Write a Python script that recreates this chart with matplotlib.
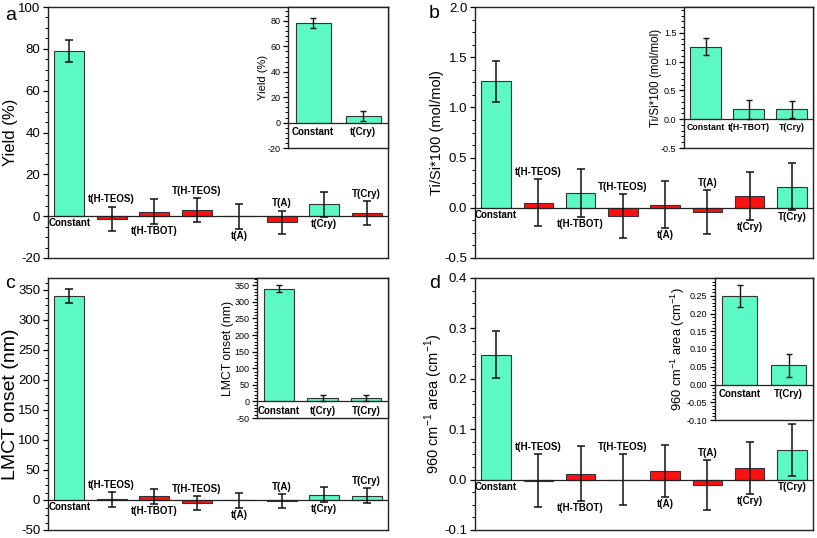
import matplotlib
matplotlib.use('Agg')
import matplotlib.pyplot as plt
from matplotlib.ticker import MultipleLocator, AutoMinorLocator, FormatStrFormatter

plt.rcParams['font.family'] = ['Liberation Sans', 'DejaVu Sans']
plt.rcParams['mathtext.fontset'] = 'custom'
plt.rcParams['mathtext.rm'] = 'Liberation Sans'

# categories
cats = ['Constant', 't(H-TEOS)', 't(H-TBOT)', 'T(H-TEOS)', 't(A)', 'T(A)', 't(Cry)', 'T(Cry)']

# a - yield
yield_val = [78.8, -1.2, 2.2, 3.0, -0.1, -3.0, 5.6, 1.7]
yield_err = [5.2, 5.8, 5.9, 5.6, 5.8, 5.7, 6.0, 5.7]
yield_in_cats = ['Constant', 't(Cry)']
yield_in_val = [78.6, 5.5]
yield_in_err = [4.1, 3.9]

# b - Ti/Si
tisi_val = [1.26, 0.05, 0.15, -0.08, 0.03, -0.04, 0.12, 0.21]
tisi_err = [0.205, 0.232, 0.24, 0.22, 0.233, 0.22, 0.237, 0.232]
tisi_in_cats = ['Constant', 't(H-TBOT)', 'T(Cry)']
tisi_in_val = [1.26, 0.17, 0.17]
tisi_in_err = [0.15, 0.16, 0.155]

# c - LMCT onset
lmct_val = [340.5, 1.0, 6.0, -4.8, -0.8, -1.8, 8.9, 7.4]
lmct_err = [11.4, 12.7, 13.0, 11.8, 12.5, 11.7, 12.5, 12.0]
lmct_in_cats = ['Constant', 't(Cry)', 'T(Cry)']
lmct_in_val = [340.0, 9.0, 9.0]
lmct_in_err = [9.5, 9.0, 9.0]

# d - 960 cm-1 area
area_val = [0.248, -0.002, 0.012, 0.0, 0.017, -0.011, 0.023, 0.059]
area_err = [0.046, 0.052, 0.054, 0.05, 0.052, 0.05, 0.052, 0.051]
area_in_cats = ['Constant', 'T(Cry)']
area_in_val = [0.249, 0.054]
area_in_err = [0.032, 0.033]

green = '#5CF8C6'
red = '#FF1010'
W, H = 817, 538


def px_axes(fig, l, t, r, b):
    return fig.add_axes([l / W, 1 - b / H, (r - l) / W, (b - t) / H])


def style_axis(ax, lab_size, minor_n):
    for s in ax.spines.values():
        s.set_linewidth(1.0)
        s.set_color('#222222')
    ax.tick_params(axis='x', bottom=False, labelbottom=False)
    ax.tick_params(axis='y', which='major', direction='out', length=3.5, width=0.9,
                   labelsize=lab_size, pad=2)
    ax.tick_params(axis='y', which='minor', direction='out', length=2, width=0.7)
    ax.yaxis.set_minor_locator(AutoMinorLocator(minor_n))
    ax.axhline(0, color='#222222', lw=0.9, zorder=3)


def label_at(ax, box, text, size, right_px):
    # right_px: right edge of the rotated label, in picture pixels
    l, t, r, b = box
    ax.set_ylabel(text, fontsize=size)
    ax.yaxis.set_label_coords((right_px - l) / (r - l), 0.5)


def main_panel(fig, box, vals, errs, inset_cats, places, ylim, step, fmt):
    ax = px_axes(fig, *box)
    x = range(len(cats))
    cols = [green if c in inset_cats else red for c in cats]
    ax.bar(x, vals, width=0.7, color=cols, edgecolor='#333333', linewidth=0.8, zorder=2)
    ax.errorbar(x, vals, yerr=errs, fmt='none', ecolor='#111111', elinewidth=1.1,
                capsize=3, capthick=1.1, zorder=4)
    ax.set_xlim(-0.5, len(cats) - 0.5)
    ax.set_ylim(*ylim)
    ax.yaxis.set_major_locator(MultipleLocator(step))
    ax.yaxis.set_major_formatter(FormatStrFormatter(fmt))
    style_axis(ax, 9.5, 4)
    for i, (c, v, e, p) in enumerate(zip(cats, vals, errs, places)):
        if p == 'up':
            ax.annotate(c, (i, max(0, v + e)), xytext=(0, 1.5), textcoords='offset points',
                        ha='center', va='bottom', fontsize=7, fontweight='bold')
        else:
            ax.annotate(c, (i, min(0, v - e)), xytext=(0, -1.5), textcoords='offset points',
                        ha='center', va='top', fontsize=7, fontweight='bold')
    return ax


def inset_panel(fig, box, icats, vals, errs, ylim, ticks, fmt, cat_size=7):
    ax = px_axes(fig, *box)
    x = range(len(icats))
    ax.bar(x, vals, width=0.7, color=green, edgecolor='#333333', linewidth=0.8, zorder=2)
    ax.errorbar(x, vals, yerr=errs, fmt='none', ecolor='#111111', elinewidth=1.0,
                capsize=2.5, capthick=1.0, zorder=4)
    ax.set_xlim(-0.5, len(icats) - 0.5)
    ax.set_ylim(*ylim)
    ax.set_yticks(ticks)
    ax.yaxis.set_major_formatter(FormatStrFormatter(fmt))
    style_axis(ax, 6.5, 5)
    for i, c in enumerate(icats):
        ax.annotate(c, (i, 0), xytext=(0, -3), textcoords='offset points',
                    ha='center', va='top', fontsize=cat_size, fontweight='bold')
    return ax


fig = plt.figure(figsize=(W / 100, H / 100), dpi=100)

# a
box = (48, 7, 388, 258)
ax = main_panel(fig, box, yield_val, yield_err, yield_in_cats,
                ['down', 'up', 'down', 'up', 'down', 'up', 'down', 'up'],
                (-20, 100), 20, '%d')
label_at(ax, box, 'Yield (%)', 12, 18)
box = (288, 7, 388, 148)
ins = inset_panel(fig, box, yield_in_cats, yield_in_val, yield_in_err,
                  (-20, 91), [-20, 0, 20, 40, 60, 80], '%d')
label_at(ins, box, 'Yield (%)', 8, 268)
fig.text(5 / W, 1 - 15 / H, 'a', fontsize=14, va='center')

# b
box = (475, 7, 813, 258)
ax = main_panel(fig, box, tisi_val, tisi_err, tisi_in_cats,
                ['down', 'up', 'down', 'up', 'down', 'up', 'down', 'down'],
                (-0.5, 2.0), 0.5, '%.1f')
label_at(ax, box, 'Ti/Si*100 (mol/mol)', 10.5, 444)
box = (684, 7, 813, 148)
ins = inset_panel(fig, box, tisi_in_cats, tisi_in_val, tisi_in_err,
                  (-0.5, 1.95), [-0.5, 0.0, 0.5, 1.0, 1.5], '%.1f', cat_size=6.3)
label_at(ins, box, 'Ti/Si*100 (mol/mol)', 8.3, 662)
fig.text(429 / W, 1 - 13 / H, 'b', fontsize=14, va='center')

# c
box = (48, 278, 388, 530)
ax = main_panel(fig, box, lmct_val, lmct_err, lmct_in_cats,
                ['down', 'up', 'down', 'up', 'down', 'up', 'down', 'up'],
                (-50, 370), 50, '%d')
label_at(ax, box, 'LMCT onset (nm)', 14, 19)
box = (257, 278, 388, 418)
ins = inset_panel(fig, box, lmct_in_cats, lmct_in_val, lmct_in_err,
                  (-50, 372), list(range(-50, 351, 50)), '%d')
label_at(ins, box, 'LMCT onset (nm)', 8.8, 234)
fig.text(5 / W, 1 - 284 / H, 'c', fontsize=14, va='center')

# d
box = (475, 278, 813, 530)
ax = main_panel(fig, box, area_val, area_err, area_in_cats,
                ['down', 'up', 'down', 'up', 'down', 'up', 'down', 'down'],
                (-0.1, 0.4), 0.1, '%.1f')
label_at(ax, box, '960 cm$^{-1}$ area (cm$^{-1}$)', 10.5, 445)
box = (715, 278, 813, 420)
ins = inset_panel(fig, box, area_in_cats, area_in_val, area_in_err,
                  (-0.1, 0.30), [-0.10, -0.05, 0.0, 0.05, 0.10, 0.15, 0.20, 0.25], '%.2f')
label_at(ins, box, '960 cm$^{-1}$ area (cm$^{-1}$)', 9.3, 687)
fig.text(429 / W, 1 - 284 / H, 'd', fontsize=14, va='center')

fig.savefig('out.png', dpi=100)
